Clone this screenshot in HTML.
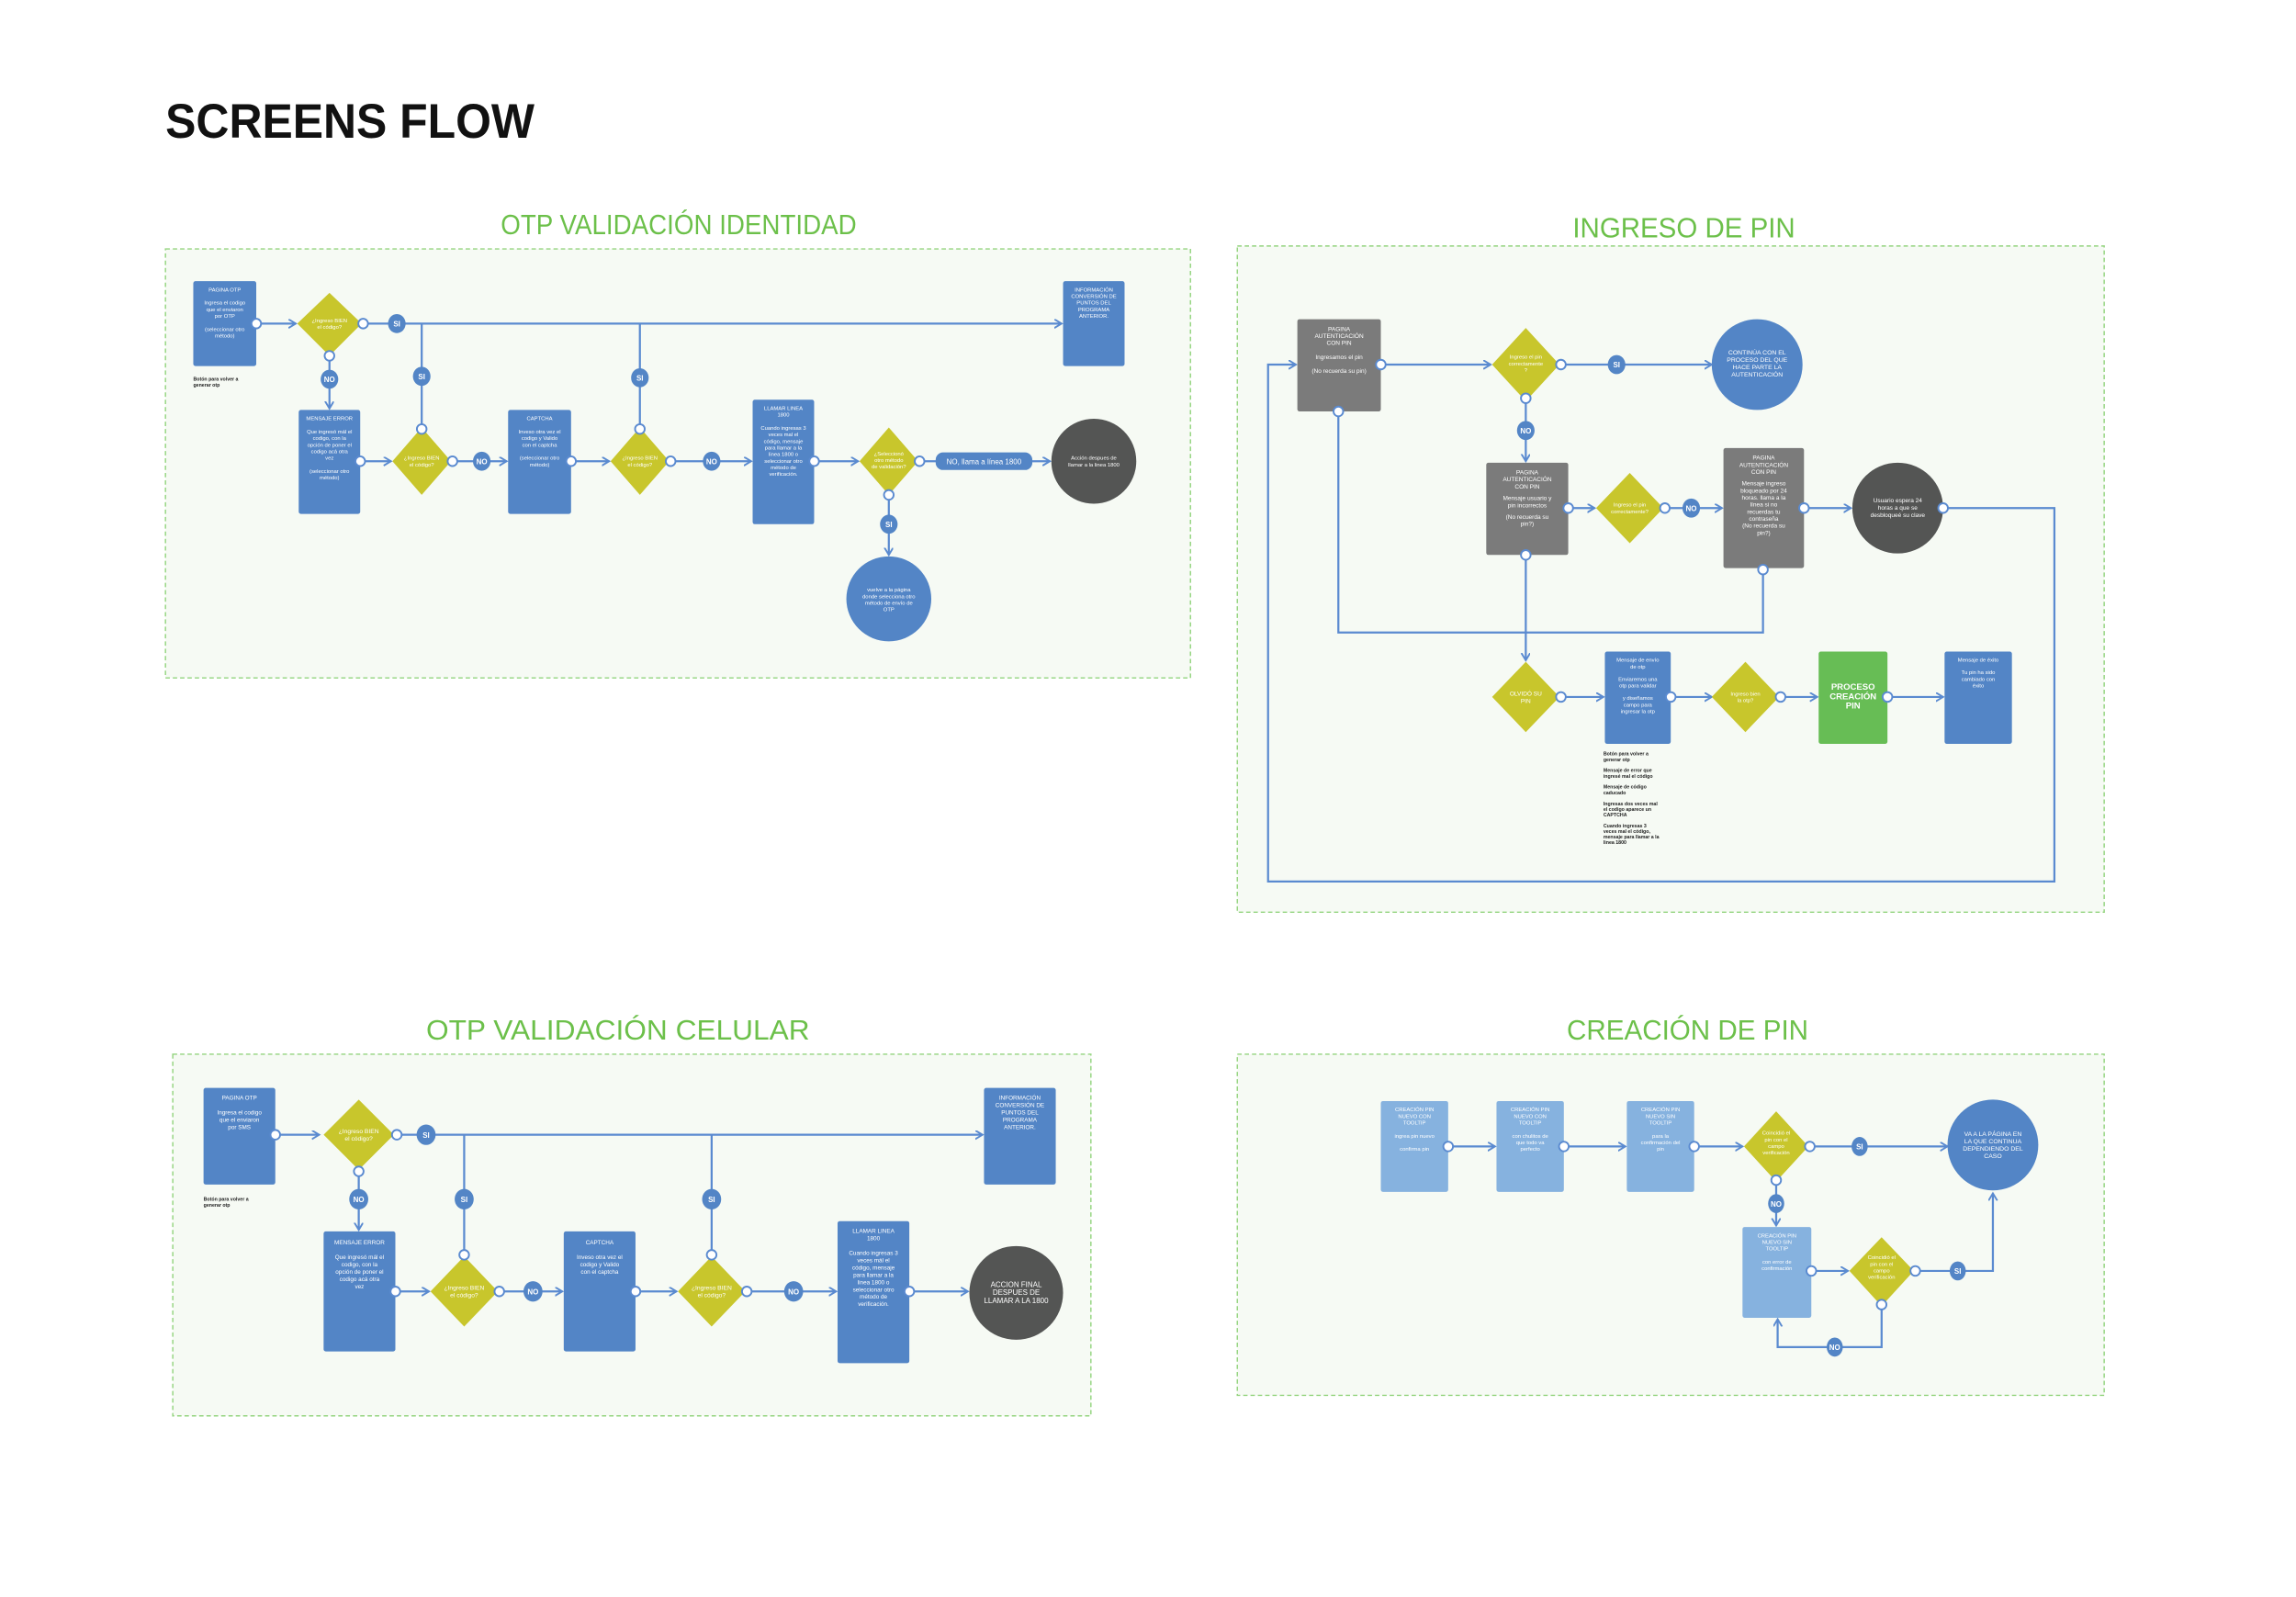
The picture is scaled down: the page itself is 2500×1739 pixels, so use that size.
<!DOCTYPE html>
<html><head><meta charset="utf-8"><style>
html,body{margin:0;padding:0;background:#fff;}
svg{display:block;}
text{font-family:"Liberation Sans",sans-serif;}
.t{fill:#fff;font-size:3.7px;text-anchor:middle;}
.tb{fill:#fff;font-size:5px;text-anchor:middle;font-weight:bold;}
.h{fill:#6cc04a;font-size:19px;}
.n{fill:#222;font-size:3.3px;font-weight:bold;}
.bl{fill:#5385c6;}
.lb{fill:#86b2df;}
.gr{fill:#7b7b7b;}
.dk{fill:#545554;}
.dm{fill:#c8c62c;}
.ln{stroke:#5a8ad0;stroke-width:1.4;fill:none;}
.c{fill:#fff;stroke:#5a8ad0;stroke-width:1.2;}
.pn{fill:#f6faf4;stroke:#93d47e;stroke-width:0.9;stroke-dasharray:3 2;}
</style></head><body>
<svg width="2500" height="1739" viewBox="0 0 1568 1090.7" xmlns="http://www.w3.org/2000/svg">
<defs>
<marker id="a" markerWidth="8" markerHeight="8" refX="5" refY="3" orient="auto" markerUnits="userSpaceOnUse">
<path d="M0,0 L5,3 L0,6" fill="none" stroke="#5a8ad0" stroke-width="1.2"/></marker>
<g id="cc"><circle r="3.3" class="c"/></g>
</defs>

<text x="113" y="94" font-size="33" font-weight="bold" fill="#111" textLength="252" lengthAdjust="spacingAndGlyphs">SCREENS FLOW</text>

<!-- ============ PANEL 1 ============ -->
<text class="h" x="342" y="160" textLength="243" lengthAdjust="spacingAndGlyphs">OTP VALIDACIÓN IDENTIDAD</text>
<rect class="pn" x="113" y="170" width="700" height="293"/>

<line class="ln" x1="175" y1="221" x2="202" y2="221" marker-end="url(#a)"/>
<line class="ln" x1="247" y1="221" x2="725" y2="221" marker-end="url(#a)"/>
<line class="ln" x1="225" y1="243" x2="225" y2="279" marker-end="url(#a)"/>
<line class="ln" x1="288" y1="221" x2="288" y2="292"/>
<line class="ln" x1="437" y1="221" x2="437" y2="292"/>
<line class="ln" x1="246" y1="315" x2="267" y2="315" marker-end="url(#a)"/>
<line class="ln" x1="308" y1="315" x2="346" y2="315" marker-end="url(#a)"/>
<line class="ln" x1="390" y1="315" x2="416" y2="315" marker-end="url(#a)"/>
<line class="ln" x1="457" y1="315" x2="513" y2="315" marker-end="url(#a)"/>
<line class="ln" x1="556" y1="315" x2="586" y2="315" marker-end="url(#a)"/>
<line class="ln" x1="627" y1="315" x2="717" y2="315" marker-end="url(#a)"/>
<line class="ln" x1="607" y1="338" x2="607" y2="379" marker-end="url(#a)"/>

<rect class="bl" x="132" y="192" width="43" height="58" rx="1.5"/>
<text class="t" x="153.5" y="199">PAGINA OTP<tspan x="153.5" dy="9">Ingresa el codigo</tspan><tspan x="153.5" dy="4.5">que el enviaron</tspan><tspan x="153.5" dy="4.5">por OTP</tspan><tspan x="153.5" dy="9">(seleccionar otro</tspan><tspan x="153.5" dy="4.5">método)</tspan></text>
<text class="n" x="132" y="260">Botón para volver a<tspan x="132" dy="4">generar otp</tspan></text>

<polygon class="dm" points="225,200 247,221 225,243 203,221"/>
<text class="t" x="225" y="220">¿Ingreso BIEN<tspan x="225" dy="4.5">el código?</tspan></text>

<rect class="bl" x="726" y="192" width="42" height="58" rx="1.5"/>
<text class="t" x="747" y="199">INFORMACIÓN<tspan x="747" dy="4.5">CONVERSIÓN DE</tspan><tspan x="747" dy="4.5">PUNTOS DEL</tspan><tspan x="747" dy="4.5">PROGRAMA</tspan><tspan x="747" dy="4.5">ANTERIOR.</tspan></text>

<rect class="bl" x="204" y="280" width="42" height="71" rx="1.5"/>
<text class="t" x="225" y="287">MENSAJE ERROR<tspan x="225" dy="9">Que ingresó mál el</tspan><tspan x="225" dy="4.5">codigo, con la</tspan><tspan x="225" dy="4.5">opción de poner el</tspan><tspan x="225" dy="4.5">codigo acá otra</tspan><tspan x="225" dy="4.5">vez</tspan><tspan x="225" dy="9">(seleccionar otro</tspan><tspan x="225" dy="4.5">método)</tspan></text>

<polygon class="dm" points="288,292 308,315 288,338 268,315"/>
<text class="t" x="288" y="314">¿Ingreso BIEN<tspan x="288" dy="4.5">el código?</tspan></text>

<rect class="bl" x="347" y="280" width="43" height="71" rx="1.5"/>
<text class="t" x="368.5" y="287">CAPTCHA<tspan x="368.5" dy="9">Inveso otra vez el</tspan><tspan x="368.5" dy="4.5">codigo y Valido</tspan><tspan x="368.5" dy="4.5">con el captcha</tspan><tspan x="368.5" dy="9">(seleccionar otro</tspan><tspan x="368.5" dy="4.5">método)</tspan></text>

<polygon class="dm" points="437,292 457,315 437,338 417,315"/>
<text class="t" x="437" y="314">¿Ingreso BIEN<tspan x="437" dy="4.5">el código?</tspan></text>

<rect class="bl" x="514" y="273" width="42" height="85" rx="1.5"/>
<text class="t" x="535" y="280">LLAMAR LINEA<tspan x="535" dy="4.5">1800</tspan><tspan x="535" dy="9">Cuando ingresas 3</tspan><tspan x="535" dy="4.5">veces mal el</tspan><tspan x="535" dy="4.5">código, mensaje</tspan><tspan x="535" dy="4.5">para llamar a la</tspan><tspan x="535" dy="4.5">linea 1800 o</tspan><tspan x="535" dy="4.5">seleccionar otro</tspan><tspan x="535" dy="4.5">método de</tspan><tspan x="535" dy="4.5">verificación.</tspan></text>

<polygon class="dm" points="607,292 627,315 607,338 587,315"/>
<text class="t" x="607" y="311">¿Seleccionó<tspan x="607" dy="4.5">otro método</tspan><tspan x="607" dy="4.5">de validación?</tspan></text>

<rect class="bl" x="639" y="309" width="66" height="12" rx="5"/>
<text class="t" x="672" y="317" style="font-size:5px">NO, llama a línea 1800</text>

<circle class="dk" cx="747" cy="315" r="29"/>
<text class="t" x="747" y="314">Acción despues de<tspan x="747" dy="4.5">llamar a la linea 1800</tspan></text>

<circle class="bl" cx="607" cy="409" r="29"/>
<text class="t" x="607" y="404">vuelve a la página<tspan x="607" dy="4.5">donde selecciona otro</tspan><tspan x="607" dy="4.5">método de envío de</tspan><tspan x="607" dy="4.5">OTP</tspan></text>

<g fill="#5385c6">
<ellipse cx="271" cy="221" rx="6" ry="6.5"/><ellipse cx="225" cy="259" rx="6" ry="6.5"/>
<ellipse cx="288" cy="257" rx="6" ry="6.5"/><ellipse cx="437" cy="258" rx="6" ry="6.5"/>
<ellipse cx="329" cy="315" rx="6" ry="6.5"/><ellipse cx="486" cy="315" rx="6" ry="6.5"/>
<ellipse cx="607" cy="358" rx="6" ry="6.5"/></g>
<text class="tb" x="271" y="223">SI</text><text class="tb" x="225" y="261">NO</text>
<text class="tb" x="288" y="259">SI</text><text class="tb" x="437" y="260">SI</text>
<text class="tb" x="329" y="317">NO</text><text class="tb" x="486" y="317">NO</text>
<text class="tb" x="607" y="360">SI</text>

<use href="#cc" x="175" y="221"/><use href="#cc" x="248" y="221"/><use href="#cc" x="225" y="243"/>
<use href="#cc" x="246" y="315"/><use href="#cc" x="288" y="293"/><use href="#cc" x="309" y="315"/>
<use href="#cc" x="390" y="315"/><use href="#cc" x="437" y="293"/><use href="#cc" x="458" y="315"/>
<use href="#cc" x="556" y="315"/><use href="#cc" x="628" y="315"/><use href="#cc" x="607" y="338"/>

<!-- ============ PANEL 2 ============ -->
<text class="h" x="1074" y="162" textLength="152" lengthAdjust="spacingAndGlyphs">INGRESO DE PIN</text>
<rect class="pn" x="845" y="168" width="592" height="455"/>

<polyline class="ln" points="1327,347 1403,347 1403,602 866,602 866,249 885,249" marker-end="url(#a)"/>
<polyline class="ln" points="914,281 914,432 1204,432 1204,389"/>
<line class="ln" x1="943" y1="249" x2="1018" y2="249" marker-end="url(#a)"/>
<line class="ln" x1="1065" y1="249" x2="1169" y2="249" marker-end="url(#a)"/>
<line class="ln" x1="1042" y1="274" x2="1042" y2="315" marker-end="url(#a)"/>
<line class="ln" x1="1071" y1="347" x2="1089" y2="347" marker-end="url(#a)"/>
<line class="ln" x1="1136" y1="347" x2="1176" y2="347" marker-end="url(#a)"/>
<line class="ln" x1="1232" y1="347" x2="1264" y2="347" marker-end="url(#a)"/>
<line class="ln" x1="1042" y1="379" x2="1042" y2="451" marker-end="url(#a)"/>
<line class="ln" x1="1065" y1="476" x2="1095" y2="476" marker-end="url(#a)"/>
<line class="ln" x1="1141" y1="476" x2="1169" y2="476" marker-end="url(#a)"/>
<line class="ln" x1="1215" y1="476" x2="1241" y2="476" marker-end="url(#a)"/>
<line class="ln" x1="1289" y1="476" x2="1327" y2="476" marker-end="url(#a)"/>

<rect class="gr" x="886" y="218" width="57" height="63" rx="1.5"/>
<text class="t" x="914.5" y="226" style="font-size:4.1px">PAGINA<tspan x="914.5" dy="4.8">AUTENTICACIÓN</tspan><tspan x="914.5" dy="4.8">CON PIN</tspan><tspan x="914.5" dy="9.5">Ingresamos el pin</tspan><tspan x="914.5" dy="9.5">(No recuerda su pin)</tspan></text>

<polygon class="dm" points="1042,224 1065,249 1042,274 1019,249"/>
<text class="t" x="1042" y="245">Ingreso el pin<tspan x="1042" dy="4.5">correctamente</tspan><tspan x="1042" dy="4.5">?</tspan></text>

<circle class="bl" cx="1200" cy="249" r="31"/>
<text class="t" x="1200" y="242" style="font-size:4.3px">CONTINÚA CON EL<tspan x="1200" dy="5">PROCESO DEL QUE</tspan><tspan x="1200" dy="5">HACE PARTE LA</tspan><tspan x="1200" dy="5">AUTENTICACIÓN</tspan></text>

<rect class="gr" x="1015" y="316" width="56" height="63" rx="1.5"/>
<text class="t" x="1043" y="324" style="font-size:4.1px">PAGINA<tspan x="1043" dy="4.8">AUTENTICACIÓN</tspan><tspan x="1043" dy="4.8">CON PIN</tspan><tspan x="1043" dy="8">Mensaje usuario y</tspan><tspan x="1043" dy="4.8">pin incorrectos</tspan><tspan x="1043" dy="8">(No recuerda su</tspan><tspan x="1043" dy="4.8">pin?)</tspan></text>

<polygon class="dm" points="1113,323 1136,347 1113,371 1090,347"/>
<text class="t" x="1113" y="346">Ingreso el pin<tspan x="1113" dy="4.5">correctamente?</tspan></text>

<rect class="gr" x="1177" y="306" width="55" height="82" rx="1.5"/>
<text class="t" x="1204.5" y="314" style="font-size:4.1px">PAGINA<tspan x="1204.5" dy="4.8">AUTENTICACIÓN</tspan><tspan x="1204.5" dy="4.8">CON PIN</tspan><tspan x="1204.5" dy="8">Mensaje ingreso</tspan><tspan x="1204.5" dy="4.8">bloqueado por 24</tspan><tspan x="1204.5" dy="4.8">horas. llama a la</tspan><tspan x="1204.5" dy="4.8">línea si no</tspan><tspan x="1204.5" dy="4.8">recuerdas tu</tspan><tspan x="1204.5" dy="4.8">contraseña</tspan><tspan x="1204.5" dy="4.8">(No recuerda su</tspan><tspan x="1204.5" dy="4.8">pin?)</tspan></text>

<circle class="dk" cx="1296" cy="347" r="31"/>
<text class="t" x="1296" y="343" style="font-size:4.1px">Usuario espera 24<tspan x="1296" dy="5">horas a que se</tspan><tspan x="1296" dy="5">desbloqueé su clave</tspan></text>

<polygon class="dm" points="1042,452 1065,476 1042,500 1019,476"/>
<text class="t" x="1042" y="475" style="font-size:4.1px">OLVIDÓ SU<tspan x="1042" dy="5">PIN</tspan></text>

<rect class="bl" x="1096" y="445" width="45" height="63" rx="1.5"/>
<text class="t" x="1118.5" y="452">Mensaje de envío<tspan x="1118.5" dy="4.5">de otp</tspan><tspan x="1118.5" dy="8.5">Enviaremos una</tspan><tspan x="1118.5" dy="4.5">otp para validar</tspan><tspan x="1118.5" dy="8.5">y diseñamos</tspan><tspan x="1118.5" dy="4.5">campo para</tspan><tspan x="1118.5" dy="4.5">ingresar la otp</tspan></text>
<text class="n" x="1095" y="516">Botón para volver a<tspan x="1095" dy="3.8">generar otp</tspan><tspan x="1095" dy="7.5">Mensaje de error que</tspan><tspan x="1095" dy="3.8">ingresé mal el código</tspan><tspan x="1095" dy="7.5">Mensaje de código</tspan><tspan x="1095" dy="3.8">caducado</tspan><tspan x="1095" dy="7.5">Ingresas dos veces mal</tspan><tspan x="1095" dy="3.8">el codigo aparece un</tspan><tspan x="1095" dy="3.8">CAPTCHA</tspan><tspan x="1095" dy="7.5">Cuando ingresas 3</tspan><tspan x="1095" dy="3.8">veces mal el código,</tspan><tspan x="1095" dy="3.8">mensaje para llamar a la</tspan><tspan x="1095" dy="3.8">linea 1800</tspan></text>

<polygon class="dm" points="1192,452 1215,476 1192,500 1169,476"/>
<text class="t" x="1192" y="475">Ingreso bien<tspan x="1192" dy="4.5">la otp?</tspan></text>

<rect x="1242" y="445" width="47" height="63" rx="1.5" fill="#67bd55"/>
<text class="t" x="1265.5" y="471" style="font-size:6px;font-weight:bold">PROCESO<tspan x="1265.5" dy="6.5">CREACIÓN</tspan><tspan x="1265.5" dy="6.5">PIN</tspan></text>

<rect class="bl" x="1328" y="445" width="46" height="63" rx="1.5"/>
<text class="t" x="1351" y="452">Mensaje de éxito<tspan x="1351" dy="8.5">Tu pin ha sido</tspan><tspan x="1351" dy="4.5">cambiado con</tspan><tspan x="1351" dy="4.5">éxito</tspan></text>

<g fill="#5385c6"><ellipse cx="1104" cy="249" rx="6" ry="6.5"/><ellipse cx="1042" cy="294" rx="6" ry="6.5"/><ellipse cx="1155" cy="347" rx="6" ry="6.5"/></g>
<text class="tb" x="1104" y="251">SI</text><text class="tb" x="1042" y="296">NO</text><text class="tb" x="1155" y="349">NO</text>

<use href="#cc" x="943" y="249"/><use href="#cc" x="914" y="281"/><use href="#cc" x="1066" y="249"/>
<use href="#cc" x="1042" y="272"/><use href="#cc" x="1071" y="347"/><use href="#cc" x="1042" y="379"/>
<use href="#cc" x="1137" y="347"/><use href="#cc" x="1232" y="347"/><use href="#cc" x="1204" y="389"/>
<use href="#cc" x="1327" y="347"/><use href="#cc" x="1066" y="476"/><use href="#cc" x="1141" y="476"/>
<use href="#cc" x="1216" y="476"/><use href="#cc" x="1289" y="476"/>

<!-- ============ PANEL 3 ============ -->
<text class="h" x="291" y="710" textLength="262" lengthAdjust="spacingAndGlyphs">OTP VALIDACIÓN CELULAR</text>
<rect class="pn" x="118" y="720" width="627" height="247"/>

<line class="ln" x1="188" y1="775" x2="218" y2="775" marker-end="url(#a)"/>
<line class="ln" x1="271" y1="775" x2="671" y2="775" marker-end="url(#a)"/>
<line class="ln" x1="245" y1="800" x2="245" y2="840" marker-end="url(#a)"/>
<line class="ln" x1="317" y1="775" x2="317" y2="858"/>
<line class="ln" x1="486" y1="775" x2="486" y2="858"/>
<line class="ln" x1="270" y1="882" x2="293" y2="882" marker-end="url(#a)"/>
<line class="ln" x1="340" y1="882" x2="384" y2="882" marker-end="url(#a)"/>
<line class="ln" x1="434" y1="882" x2="462" y2="882" marker-end="url(#a)"/>
<line class="ln" x1="510" y1="882" x2="571" y2="882" marker-end="url(#a)"/>
<line class="ln" x1="621" y1="882" x2="661" y2="882" marker-end="url(#a)"/>

<rect class="bl" x="139" y="743" width="49" height="66" rx="1.5"/>
<text class="t" x="163.5" y="751" style="font-size:4px">PAGINA OTP<tspan x="163.5" dy="10">Ingresa el codigo</tspan><tspan x="163.5" dy="5">que el enviaron</tspan><tspan x="163.5" dy="5">por SMS</tspan></text>
<text class="n" x="139" y="820">Botón para volver a<tspan x="139" dy="4">generar otp</tspan></text>

<polygon class="dm" points="245,751 269,775 245,799 221,775"/>
<text class="t" x="245" y="774" style="font-size:4.2px">¿Ingreso BIEN<tspan x="245" dy="5">el código?</tspan></text>

<rect class="bl" x="672" y="743" width="49" height="66" rx="1.5"/>
<text class="t" x="696.5" y="751" style="font-size:4px">INFORMACIÓN<tspan x="696.5" dy="5">CONVERSIÓN DE</tspan><tspan x="696.5" dy="5">PUNTOS DEL</tspan><tspan x="696.5" dy="5">PROGRAMA</tspan><tspan x="696.5" dy="5">ANTERIOR.</tspan></text>

<rect class="bl" x="221" y="841" width="49" height="82" rx="1.5"/>
<text class="t" x="245.5" y="850" style="font-size:4px">MENSAJE ERROR<tspan x="245.5" dy="10">Que ingresó mál el</tspan><tspan x="245.5" dy="5">codigo, con la</tspan><tspan x="245.5" dy="5">opción de poner el</tspan><tspan x="245.5" dy="5">codigo acá otra</tspan><tspan x="245.5" dy="5">vez</tspan></text>

<polygon class="dm" points="317,858 340,882 317,906 294,882"/>
<text class="t" x="317" y="881" style="font-size:4.2px">¿Ingreso BIEN<tspan x="317" dy="5">el código?</tspan></text>

<rect class="bl" x="385" y="841" width="49" height="82" rx="1.5"/>
<text class="t" x="409.5" y="850" style="font-size:4px">CAPTCHA<tspan x="409.5" dy="10">Inveso otra vez el</tspan><tspan x="409.5" dy="5">codigo y Valido</tspan><tspan x="409.5" dy="5">con el captcha</tspan></text>

<polygon class="dm" points="486,858 509,882 486,906 463,882"/>
<text class="t" x="486" y="881" style="font-size:4.2px">¿Ingreso BIEN<tspan x="486" dy="5">el código?</tspan></text>

<rect class="bl" x="572" y="834" width="49" height="97" rx="1.5"/>
<text class="t" x="596.5" y="842" style="font-size:4px">LLAMAR LINEA<tspan x="596.5" dy="5">1800</tspan><tspan x="596.5" dy="10">Cuando ingresas 3</tspan><tspan x="596.5" dy="5">veces mál el</tspan><tspan x="596.5" dy="5">código, mensaje</tspan><tspan x="596.5" dy="5">para llamar a la</tspan><tspan x="596.5" dy="5">linea 1800 o</tspan><tspan x="596.5" dy="5">seleccionar otro</tspan><tspan x="596.5" dy="5">método de</tspan><tspan x="596.5" dy="5">verificación.</tspan></text>

<circle class="dk" cx="694" cy="883" r="32"/>
<text class="t" x="694" y="879" style="font-size:5px">ACCION FINAL<tspan x="694" dy="5.5">DESPUES DE</tspan><tspan x="694" dy="5.5">LLAMAR A LA 1800</tspan></text>

<g fill="#5385c6"><ellipse cx="291" cy="775" rx="6.5" ry="7"/><ellipse cx="245" cy="819" rx="6.5" ry="7"/>
<ellipse cx="317" cy="819" rx="6.5" ry="7"/><ellipse cx="486" cy="819" rx="6.5" ry="7"/>
<ellipse cx="364" cy="882" rx="6.5" ry="7"/><ellipse cx="542" cy="882" rx="6.5" ry="7"/></g>
<text class="tb" x="291" y="777">SI</text><text class="tb" x="245" y="821">NO</text>
<text class="tb" x="317" y="821">SI</text><text class="tb" x="486" y="821">SI</text>
<text class="tb" x="364" y="884">NO</text><text class="tb" x="542" y="884">NO</text>

<use href="#cc" x="188" y="775"/><use href="#cc" x="271" y="775"/><use href="#cc" x="245" y="800"/>
<use href="#cc" x="270" y="882"/><use href="#cc" x="317" y="857"/><use href="#cc" x="341" y="882"/>
<use href="#cc" x="434" y="882"/><use href="#cc" x="486" y="857"/><use href="#cc" x="510" y="882"/>
<use href="#cc" x="621" y="882"/>

<!-- ============ PANEL 4 ============ -->
<text class="h" x="1070" y="710" textLength="165" lengthAdjust="spacingAndGlyphs">CREACIÓN DE PIN</text>
<rect class="pn" x="845" y="720" width="592" height="233"/>

<line class="ln" x1="989" y1="783" x2="1021" y2="783" marker-end="url(#a)"/>
<line class="ln" x1="1068" y1="783" x2="1110" y2="783" marker-end="url(#a)"/>
<line class="ln" x1="1157" y1="783" x2="1190" y2="783" marker-end="url(#a)"/>
<line class="ln" x1="1235" y1="783" x2="1330" y2="783" marker-end="url(#a)"/>
<line class="ln" x1="1213" y1="807" x2="1213" y2="837" marker-end="url(#a)"/>
<line class="ln" x1="1237" y1="868" x2="1262" y2="868" marker-end="url(#a)"/>
<polyline class="ln" points="1307,868 1361,868 1361,815" marker-end="url(#a)"/>
<polyline class="ln" points="1285,892 1285,920 1214,920 1214,901" marker-end="url(#a)"/>

<rect class="lb" x="943" y="752" width="46" height="62" rx="1.5"/>
<text class="t" x="966" y="759">CREACIÓN PIN<tspan x="966" dy="4.5">NUEVO CON</tspan><tspan x="966" dy="4.5">TOOLTIP</tspan><tspan x="966" dy="9">ingrea pin nuevo</tspan><tspan x="966" dy="9">confirma pin</tspan></text>
<rect class="lb" x="1022" y="752" width="46" height="62" rx="1.5"/>
<text class="t" x="1045" y="759">CREACIÓN PIN<tspan x="1045" dy="4.5">NUEVO CON</tspan><tspan x="1045" dy="4.5">TOOLTIP</tspan><tspan x="1045" dy="9">con chulitos de</tspan><tspan x="1045" dy="4.5">que todo va</tspan><tspan x="1045" dy="4.5">perfecto</tspan></text>
<rect class="lb" x="1111" y="752" width="46" height="62" rx="1.5"/>
<text class="t" x="1134" y="759">CREACIÓN PIN<tspan x="1134" dy="4.5">NUEVO SIN</tspan><tspan x="1134" dy="4.5">TOOLTIP</tspan><tspan x="1134" dy="9">para la</tspan><tspan x="1134" dy="4.5">confirmación del</tspan><tspan x="1134" dy="4.5">pin</tspan></text>

<polygon class="dm" points="1213,759 1235,783 1213,807 1191,783"/>
<text class="t" x="1213" y="775">Coincidió el<tspan x="1213" dy="4.5">pin con el</tspan><tspan x="1213" dy="4.5">campo</tspan><tspan x="1213" dy="4.5">verificación</tspan></text>

<circle class="bl" cx="1361" cy="782" r="31"/>
<text class="t" x="1361" y="776" style="font-size:4.3px">VA A LA PÁGINA EN<tspan x="1361" dy="5">LA QUE CONTINUA</tspan><tspan x="1361" dy="5">DEPENDIENDO DEL</tspan><tspan x="1361" dy="5">CASO</tspan></text>

<rect class="lb" x="1190" y="838" width="47" height="62" rx="1.5"/>
<text class="t" x="1213.5" y="845">CREACIÓN PIN<tspan x="1213.5" dy="4.5">NUEVO SIN</tspan><tspan x="1213.5" dy="4.5">TOOLTIP</tspan><tspan x="1213.5" dy="9">con error de</tspan><tspan x="1213.5" dy="4.5">confirmación</tspan></text>

<polygon class="dm" points="1285,845 1307,868 1285,892 1263,868"/>
<text class="t" x="1285" y="860">Coincidió el<tspan x="1285" dy="4.5">pin con el</tspan><tspan x="1285" dy="4.5">campo</tspan><tspan x="1285" dy="4.5">verificación</tspan></text>

<g fill="#5385c6"><ellipse cx="1270" cy="783" rx="5.5" ry="6.5"/><ellipse cx="1213" cy="822" rx="5.5" ry="6.5"/>
<ellipse cx="1337" cy="868" rx="5.5" ry="6.5"/><ellipse cx="1253" cy="920" rx="5.5" ry="6.5"/></g>
<text class="tb" x="1270" y="785">SI</text><text class="tb" x="1213" y="824">NO</text>
<text class="tb" x="1337" y="870">SI</text><text class="tb" x="1253" y="922">NO</text>

<use href="#cc" x="989" y="783"/><use href="#cc" x="1068" y="783"/><use href="#cc" x="1157" y="783"/>
<use href="#cc" x="1236" y="783"/><use href="#cc" x="1213" y="806"/><use href="#cc" x="1237" y="868"/>
<use href="#cc" x="1308" y="868"/><use href="#cc" x="1285" y="891"/>
</svg>
</body></html>
